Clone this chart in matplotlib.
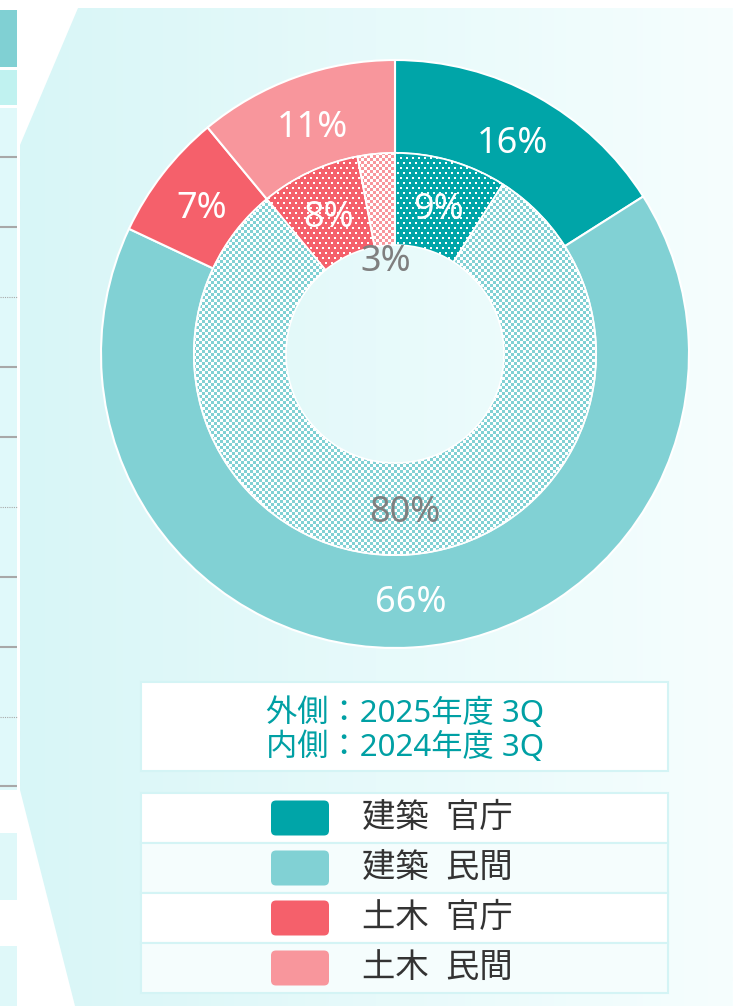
import numpy as np
import matplotlib
matplotlib.use("Agg")
import matplotlib.pyplot as plt
from matplotlib.patches import Rectangle, Polygon, FancyBboxPatch
from matplotlib.colors import to_rgb

plt.rcParams['font.family'] = ['Noto Sans', 'Noto Sans CJK JP', 'DejaVu Sans']

W, H = 733, 1006

# ── data ──────────────────────────────────────────────────────────────────────
categories = ["建築  官庁", "建築  民間", "土木  官庁", "土木  民間"]
outer_2025 = [16, 66, 7, 11]
inner_2024 = [9, 80, 8, 3]
colors     = ["#00a5a8", "#81d1d4", "#f5606b", "#f8969c"]
patterns   = ["dots", "checker", "dots", "checker"]
caption    = ["外側：2025年度 3Q", "内側：2024年度 3Q"]

CX, CY = 395, H - 354
R_OUT, R_MID, R_IN = 294, 201, 109


def fy(y):
    # image-style y (top down) -> axes y (bottom up)
    return H - y


def make_pattern(kind, color, n):
    yy, xx = np.mgrid[0:n, 0:n]
    if kind == "checker":
        mask = ((xx // 3 + yy // 3) % 2) == 0
    else:
        shift = (yy // 5) % 2 * 3
        mask = ((xx + shift) % 6 < 2) & (yy % 5 < 2)
    base = np.array(to_rgb(color))
    white = np.array([1.0, 1.0, 1.0])
    return np.where(mask[..., None], white, base)


fig = plt.figure(figsize=(W / 100, H / 100), dpi=100)
ax = fig.add_axes([0, 0, 1, 1])

# ── background panel ─────────────────────────────────────────────────────────
panel_pts = [(78, 8), (733, 8), (733, 1006), (75, 1006), (20, 790), (20, 145)]
panel = Polygon([(x, fy(y)) for x, y in panel_pts], closed=True,
                facecolor="none", edgecolor="none")
ax.add_patch(panel)
c0, c1 = np.array(to_rgb("#d8f6f7")), np.array(to_rgb("#f6fefe"))
t = np.linspace(0, 1, 256)[None, :, None]
grad = c0 * (1 - t) + c1 * t
bg = ax.imshow(grad, extent=(20, 733, 0, fy(8)), aspect="auto",
               interpolation="bilinear", zorder=0)
bg.set_clip_path(panel)

# ── left strip (neighbouring table) ──────────────────────────────────────────
strip = [(10, 67, "#80d0d3"), (70, 105, "#c0f2f0"), (108, 790, "#e0f9fa"),
         (833, 900, "#dff8f9"), (946, 1006, "#dff8f9")]
for y0, y1, col in strip:
    ax.add_patch(Rectangle((0, fy(y1)), 17, y1 - y0, facecolor=col,
                           edgecolor="none", zorder=0.5))
for y in [157, 227, 367, 437, 577, 647, 786]:
    ax.plot([0, 17], [fy(y), fy(y)], color="#a8a8a8", lw=1.5, zorder=0.6,
            solid_capstyle="butt")
for y in [297, 507, 717]:
    ax.plot([0, 17], [fy(y), fy(y)], color="#a8a8a8", lw=0.8, ls=(0, (1, 1)),
            zorder=0.6)

# ── donut rings ──────────────────────────────────────────────────────────────
wo, _ = ax.pie(outer_2025, colors=colors, radius=R_OUT, center=(CX, CY),
               startangle=90, counterclock=False, frame=True,
               wedgeprops=dict(width=R_OUT - R_MID, edgecolor="white",
                               linewidth=1.5))
wi, _ = ax.pie(inner_2024, colors=colors, radius=R_MID, center=(CX, CY),
               startangle=90, counterclock=False, frame=True,
               wedgeprops=dict(width=R_MID - R_IN, edgecolor="white",
                               linewidth=1.2))

n = 2 * R_MID + 2
for w, kind, col in zip(wi, patterns, colors):
    im = ax.imshow(make_pattern(kind, col, n),
                   extent=(CX - R_MID - 1, CX + R_MID + 1,
                           CY - R_MID - 1, CY + R_MID + 1),
                   interpolation="nearest", zorder=1.5)
    im.set_clip_path(w)
    w.set_facecolor("none")
    w.set_zorder(2)

# percentage labels
r_lab_out = (R_OUT + R_MID) / 2 - 3
for w, v in zip(wo, outer_2025):
    a = np.deg2rad((w.theta1 + w.theta2) / 2)
    ax.text(CX + r_lab_out * np.cos(a), CY + r_lab_out * np.sin(a), f"{v}%",
            ha="center", va="center_baseline", color="white", fontsize=26,
            zorder=3)

r_lab_in = (R_MID + R_IN) / 2
for w, v, kind in zip(wi, inner_2024, patterns):
    a = np.deg2rad((w.theta1 + w.theta2) / 2)
    r = r_lab_in if v >= 5 else R_IN - 12
    ax.text(CX + r * np.cos(a), CY + r * np.sin(a), f"{v}%",
            ha="center", va="center_baseline", fontsize=26, zorder=3,
            color="white" if kind == "dots" else "#7f7f7f")

# ── caption box ──────────────────────────────────────────────────────────────
ax.add_patch(Rectangle((141, fy(771)), 527, 89, facecolor="white",
                       edgecolor="#d4f4f5", lw=1.5, zorder=2))
for i, line in enumerate(caption):
    ax.text(405, fy(713 + 34 * i), line, ha="center", va="center",
            color="#00a0a4", fontsize=22.5, zorder=3)

# ── legend box ───────────────────────────────────────────────────────────────
row_h = 50
top = 793
for i, (lab, col) in enumerate(zip(categories, colors)):
    y0 = top + i * row_h
    ax.add_patch(Rectangle((141, fy(y0 + row_h)), 527, row_h,
                           facecolor="white" if i % 2 == 0 else "#f5fdfd",
                           edgecolor="#d4f4f5", lw=1.5, zorder=2))
    yc = y0 + row_h / 2
    ax.add_patch(FancyBboxPatch((271, fy(yc + 17.5)), 58, 35,
                                boxstyle="round,pad=0,rounding_size=5",
                                facecolor=col, edgecolor="none", zorder=3))
    ax.text(362, fy(yc), lab, ha="left", va="center", color="#333333",
            fontsize=24, zorder=3)

ax.set_xlim(0, W)
ax.set_ylim(0, H)
ax.set_aspect("auto")
ax.axis("off")

fig.savefig("out.png", dpi=100, facecolor="white")
